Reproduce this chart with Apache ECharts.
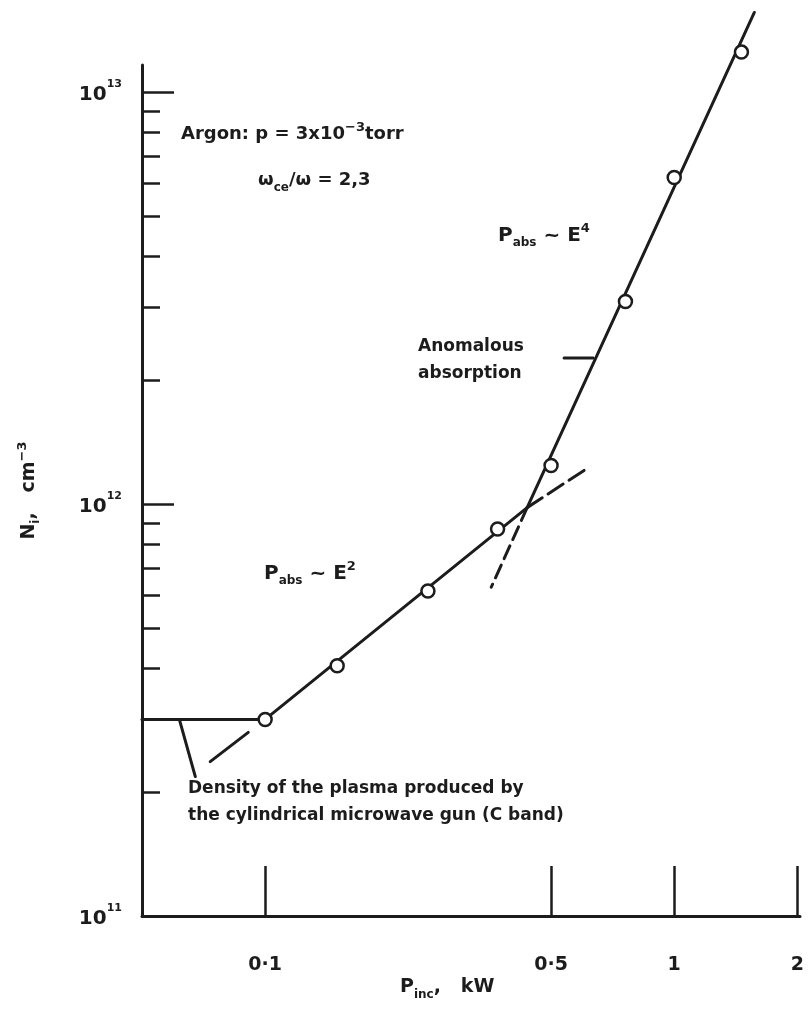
<!DOCTYPE html>
<html>
<head>
<meta charset="utf-8">
<title>Ion density vs incident power</title>
<script src="https://cdn.jsdelivr.net/npm/echarts@6/dist/echarts.min.js"></script>
<style>
  html, body { margin: 0; padding: 0; background: #fff; }
  #main { width: 809px; height: 1010px; }
</style>
</head>
<body>
<div id="main"></div>
<script>
// measured points: incident power (kW) and density (cm^-3)
var pinc = [0.1, 0.15, 0.25, 0.37, 0.5, 0.76, 1.0, 1.46];
var density = [3.0e11, 4.05e11, 6.15e11, 8.7e11, 1.24e12, 3.1e12, 6.2e12, 1.25e13];

// drawn fit lines [kW, cm^-3]
var plateauLine = [[0.05, 3.0e11], [0.1, 3.0e11]];
var lowLine = [[0.1, 3.0e11], [0.437, 9.8e11]];
var steepLine = [[0.437, 9.8e11], [1.57, 1.56e13]];
var lowDashBelow = [[0.0734, 2.37e11], [0.1, 3.0e11]];
var lowDashAbove = [[0.437, 9.8e11], [0.62, 1.23e12]];
var steepDashBelow = [[0.437, 9.8e11], [0.357, 6.28e11]];

// pointer lines for the notes
var gunLeader = [[0.0617, 3.0e11], [0.0675, 2.18e11]];
var anomLeader = [[0.538, 2.26e12], [0.634, 2.26e12]];

// axis ticks
var xTicks = [0.1, 0.5, 1, 2];
var yMajor = [1e11, 1e12, 1e13];
var yMinor = [2e11, 3e11, 4e11, 5e11, 6e11, 7e11, 8e11, 9e11,
              2e12, 3e12, 4e12, 5e12, 6e12, 7e12, 8e12, 9e12];

var ink = '#1c1c1c';
var font = 'DejaVu Sans';

var rich = {
  t: { fontFamily: font, fontWeight: 'bold', fontSize: 19, lineHeight: 26, color: ink },
  sup: { fontFamily: font, fontWeight: 'bold', fontSize: 13, lineHeight: 14, verticalAlign: 'top', color: ink },
  sub: { fontFamily: font, fontWeight: 'bold', fontSize: 12, lineHeight: 13, verticalAlign: 'bottom', color: ink }
};

function lineSeries(data, dash) {
  return {
    type: 'line',
    data: data,
    symbol: 'none',
    clip: false,
    silent: true,
    lineStyle: { color: ink, width: 3, type: dash || 'solid', cap: 'round' },
    z: 2
  };
}

function note(left, top, text, size) {
  return {
    type: 'text',
    left: left,
    top: top,
    style: {
      text: text,
      rich: rich,
      fontFamily: font,
      fontWeight: 'bold',
      fontSize: size || 18,
      lineHeight: 27,
      fill: ink
    }
  };
}

var myChart = echarts.init(document.getElementById('main'));

var option = {
  backgroundColor: '#fff',
  animation: false,
  grid: { left: 142, right: 9, top: 65, bottom: 94 },
  xAxis: {
    type: 'log',
    logBase: 10,
    min: 0.05,
    max: 2.03,
    axisLine: { show: true, lineStyle: { color: ink, width: 3 } },
    axisTick: { show: true, inside: true, length: 50, customValues: xTicks,
      lineStyle: { color: ink, width: 2.5 } },
    axisLabel: {
      customValues: xTicks,
      margin: 40,
      color: ink,
      fontFamily: font,
      fontWeight: 'bold',
      fontSize: 19,
      formatter: function (v) {
        return String(+(+v).toPrecision(3)).replace('.', '·');
      }
    },
    splitLine: { show: false },
    minorTick: { show: false }
  },
  yAxis: [
    {
      type: 'log',
      logBase: 10,
      min: 1e11,
      max: 1.163e13,
      name: '{t|N}{sub|i}{t|,   cm}{sup|−3}',
      nameLocation: 'middle',
      nameGap: 100,
      nameRotate: 90,
      nameTextStyle: { rich: rich },
      axisLine: { show: true, lineStyle: { color: ink, width: 3 } },
      axisTick: { show: true, inside: true, length: 32, customValues: yMajor,
        lineStyle: { color: ink, width: 2.5 } },
      axisLabel: {
        customValues: yMajor,
        margin: 20,
        rich: {
          b: { fontFamily: font, fontWeight: 'bold', fontSize: 20, lineHeight: 26, verticalAlign: 'bottom', color: ink },
          e: { fontFamily: font, fontWeight: 'bold', fontSize: 11, lineHeight: 14, verticalAlign: 'top', color: ink }
        },
        formatter: function (v) {
          return '{b|10}{e|' + Math.round(Math.log10(v)) + '}';
        }
      },
      splitLine: { show: false }
    },
    {
      type: 'log',
      logBase: 10,
      min: 1e11,
      max: 1.163e13,
      position: 'left',
      axisLine: { show: false },
      axisTick: { show: true, inside: true, length: 18, customValues: yMinor,
        lineStyle: { color: ink, width: 2.5 } },
      axisLabel: { show: false },
      splitLine: { show: false }
    }
  ],
  series: [
    lineSeries(plateauLine),
    lineSeries(lowLine),
    lineSeries(steepLine),
    lineSeries(lowDashBelow, [48, 30]),
    lineSeries(lowDashAbove, [18, 7]),
    lineSeries(steepDashBelow, [14, 7]),
    lineSeries(gunLeader),
    lineSeries(anomLeader),
    {
      type: 'scatter',
      data: pinc.map(function (p, i) { return [p, density[i]]; }),
      symbol: 'circle',
      symbolSize: 13,
      clip: false,
      itemStyle: { color: '#fff', borderColor: ink, borderWidth: 2.5, opacity: 1 },
      z: 5
    }
  ],
  graphic: [
    note(181, 121, 'Argon: p = 3x10{sup|−3}torr'),
    note(258, 167, 'ω{sub|ce}/ω = 2,3'),
    note(498, 222, 'P{sub|abs} ~ E{sup|4}', 20),
    note(418, 333, 'Anomalous\nabsorption', 17),
    note(264, 560, 'P{sub|abs} ~ E{sup|2}', 20),
    note(188, 775, 'Density of the plasma produced by\nthe cylindrical microwave gun (C band)', 17),
    note(400, 974, 'P{sub|inc},   kW', 19)
  ]
};

myChart.setOption(option);
</script>
</body>
</html>
